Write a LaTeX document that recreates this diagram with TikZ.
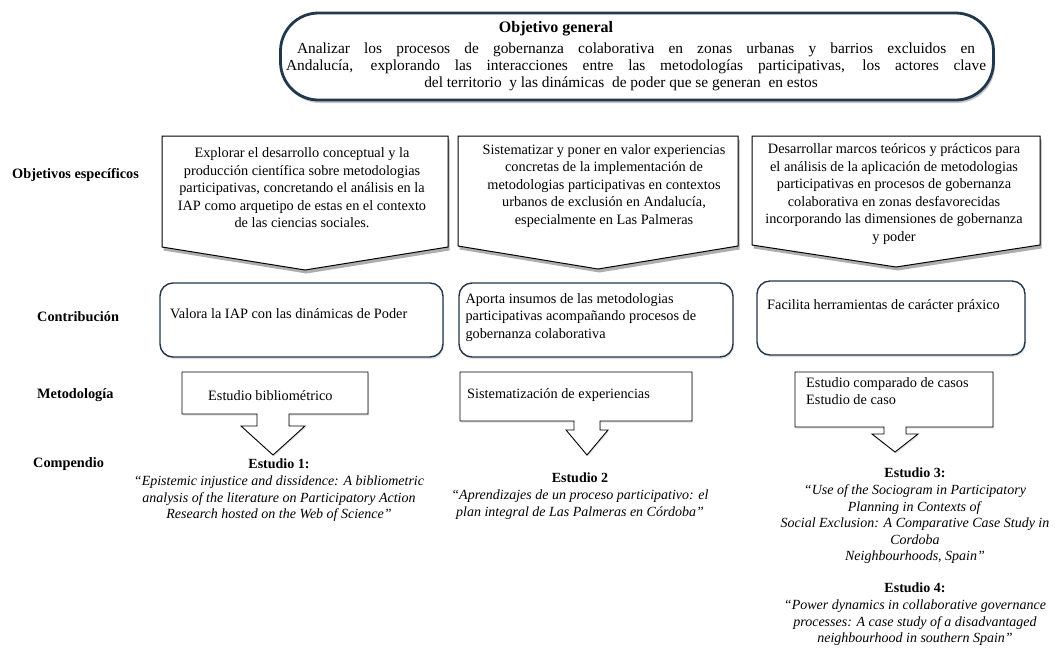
\documentclass[tikz,border=0pt]{standalone}
\usepackage{fontspec}
\setmainfont{Liberation Serif}
\usetikzlibrary{positioning,shadows}
\definecolor{navy}{RGB}{33,55,75}
\newcommand\bodyfont{\fontsize{14.3pt}{17.5pt}\selectfont}
\newcommand\topfont{\fontsize{15.4pt}{17pt}\selectfont}
\newcommand\quotefont{\fontsize{14pt}{16.6pt}\selectfont}
\tikzset{lbl/.style = {font=\bodyfont\bfseries, anchor=west, inner sep=0pt},
    pent/.style = {draw=black, line width=1pt, fill=white, drop shadow={shadow xshift=1.5pt, shadow yshift=-3.5pt, opacity=.45, fill=black!70}},
    callbox/.style = {draw=black, line width=.9pt, fill=white, drop shadow={shadow xshift=1pt, shadow yshift=-1.5pt, opacity=.25}},
    genbox/.style = {rectangle, rounded corners=38pt, draw=navy, line width=2.8pt, fill=white, minimum width=713pt, minimum height=87pt, drop shadow={shadow xshift=1.5pt, shadow yshift=-3pt, opacity=.45}},
    conbox/.style = {rectangle, rounded corners=13pt, draw=navy, line width=1.4pt, fill=white, drop shadow={shadow xshift=1pt, shadow yshift=-2pt, opacity=.25}},
    ptxt/.style = {font=\bodyfont, align=center, inner sep=0pt},
    ctxt/.style = {font=\bodyfont, align=left, inner sep=0pt},
    study/.style = {font=\quotefont, align=center, inner sep=0pt, anchor=north}
}
\newcommand\DownPent[6]{% name, left, right, top, side bottom, tip
    \draw[pent] (#2,#4) -- (#3,#4) -- (#3,#5) -- ({(#2+#3)/2},#6) coordinate (#1) -- (#2,#5) -- cycle;
    }
\newcommand\DownCall[9]{% left, right, top, bottom, arrow x, neck, head, neck end, tip
    \draw[callbox] (#1,#3) -- (#2,#3) -- (#2,#4) -- ({#5+#6},#4) -- ({#5+#6},#8) -- ({#5+#7},#8)
        -- (#5,#9) -- ({#5-#7},#8) -- ({#5-#6},#8) -- ({#5-#6},#4) -- (#1,#4) -- cycle;
    }
\begin{document}
\begin{tikzpicture}[x=1pt,y=-1pt]
\useasboundingbox (0,0) rectangle (1055,649);
% objetivo general
\node[genbox] (gen) at (637,56.5) {};
\node[font=\fontsize{16pt}{18pt}\selectfont\bfseries, inner sep=0pt] (gentit) at (556,29) {Objetivo general};
\node[font=\topfont, align=center, inner sep=0pt, anchor=north] (gentxt) at (636,43)
    {\makebox[678pt][s]{Analizar los procesos de gobernanza colaborativa en zonas urbanas y barrios excluidos en}\\
     \makebox[700pt][s]{Andalucía, explorando las interacciones entre las metodologías participativas, los actores clave}\\
     del territorio\ \ y las dinámicas\ \ de poder que se generan\ \ en estos\hspace*{30pt}};

% etiquetas
\node[lbl] (lobj) at (12,175) {Objetivos específicos};
\node[lbl] (lcon) at (37,317) {Contribución};
\node[lbl] (lmet) at (37,395) {Metodología};
\node[lbl] (lcom) at (33,464) {Compendio};

% objetivos especificos
\DownPent{p1}{162}{448}{136}{247}{270}
\DownPent{p2}{458}{738}{136}{246}{269}
\DownPent{p3}{752}{1040}{136}{245}{267}
\node[ptxt] (obj1) at (302,188) {Explorar el desarrollo conceptual y la\\ producción científica sobre metodologias\\
    participativas, concretando el análisis en la\\ IAP como arquetipo de estas en el contexto\\ de las ciencias sociales.};
\node[ptxt] (obj2) at (604,186) {Sistematizar y poner en valor experiencias\\ concretas de la implementación de\\
    metodologias participativas en contextos\\ urbanos de exclusión en Andalucía,\\ especialmente en Las Palmeras};
\node[ptxt] (obj3) at (894,194) {Desarrollar marcos teóricos y prácticos para\\ el análisis de la aplicación de metodologias\\
    participativas en procesos de gobernanza\\ colaborativa en zonas desfavorecidas\\
    incorporando las dimensiones de gobernanza\\ y poder};

% contribucion
\node[conbox, minimum width=283pt, minimum height=74pt] (con1) at (301.5,320) {};
\node[conbox, minimum width=274pt, minimum height=74pt] (con2) at (596,320) {};
\node[conbox, minimum width=268pt, minimum height=74pt] (con3) at (891,318) {};
\node[ctxt, anchor=west] (con1t) at (170,314) {Valora la IAP con las dinámicas de Poder};
\node[ctxt, below right=11pt and 7pt of con2.north west] (con2t) {Aporta insumos de las metodologias\\
    participativas acompañando procesos de\\ gobernanza colaborativa};
\node[ctxt, anchor=west] (con3t) at (767,306) {Facilita herramientas de carácter práxico};

% metodologia
\DownCall{182}{368}{372}{414}{273}{16}{32}{426}{455}
\DownCall{460}{692}{372}{421}{587}{13}{21}{430}{455}
\DownCall{795}{993}{372}{427}{895}{11}{23}{434}{452}
\node[ctxt, anchor=west] (met1) at (208,396) {Estudio bibliométrico};
\node[ctxt, anchor=west] (met2) at (467,395) {Sistematización de experiencias};
\node[ctxt, anchor=north west] (met3) at (806,377) {Estudio comparado de casos\\ Estudio de caso};

% compendio
\node[study] (est1) at (279,459) {\textbf{Estudio 1:}\\ \textit{“Epistemic injustice and dissidence: A bibliometric}\\
    \textit{analysis of the literature on Participatory Action}\\ \textit{Research hosted on the Web of Science”}};
\node[study] (est2) at (580,473) {\textbf{Estudio 2}\\ \textit{“Aprendizajes de un proceso participativo: el}\\
    \textit{plan integral de Las Palmeras en Córdoba”}};
\node[study] (est3) at (915,468) {\textbf{Estudio 3:}\\ \textit{“Use of the Sociogram in Participatory}\\
    \textit{Planning in Contexts of}\\ \textit{Social Exclusion: A Comparative Case Study in}\\
    \textit{Cordoba}\\ \textit{Neighbourhoods, Spain”}};
\node[study] (est4) at (915,583) {\textbf{Estudio 4:}\\ \textit{“Power dynamics in collaborative governance}\\
    \textit{processes: A case study of a disadvantaged}\\ \textit{neighbourhood in southern Spain”}};
\end{tikzpicture}
\end{document}
